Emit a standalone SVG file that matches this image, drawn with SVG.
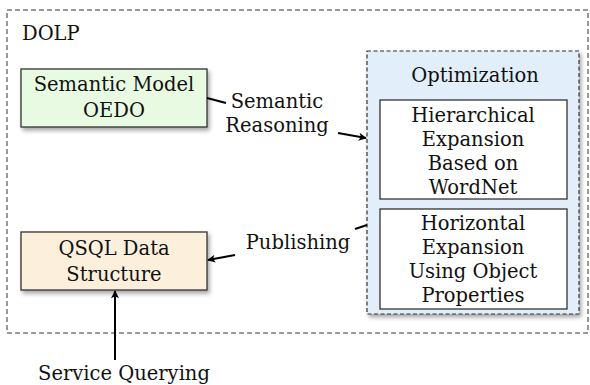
<svg xmlns="http://www.w3.org/2000/svg" width="590" height="385" viewBox="0 0 590 385">
<defs>
<filter id="sh" x="-10%" y="-10%" width="130%" height="140%">
<feDropShadow dx="2" dy="3" stdDeviation="2" flood-color="#000" flood-opacity="0.35"/>
</filter>
<marker id="ah" viewBox="0 0 10 10" refX="9" refY="5" markerWidth="10" markerHeight="8" markerUnits="userSpaceOnUse" orient="auto">
<path d="M0,0 L10,5 L0,10 L2.5,5 Z" fill="#000"/>
</marker>
<style>
text{font-family:"DejaVu Serif","Liberation Serif",serif;font-size:19.5px;fill:#111;text-anchor:middle}
.l{text-anchor:start}
.box{stroke:#333;stroke-width:1.3}
.c{fill:none;stroke:#000;stroke-width:2}
</style>
</defs>
<g id="dolp">
<rect x="7" y="10" width="581" height="323" fill="#fff" stroke="#333" stroke-width="1" stroke-dasharray="5,3"/>
<text class="l" x="22" y="40">DOLP</text>
</g>
<g id="semantic-model">
<rect class="box" x="21" y="69" width="186" height="58" fill="#e8fbe2" filter="url(#sh)"/>
<text x="114" y="91">Semantic Model</text>
<text x="114" y="117">OEDO</text>
</g>
<g id="qsql">
<rect class="box" x="21" y="232" width="186" height="58" fill="#fcf0dc" filter="url(#sh)"/>
<text x="114" y="255">QSQL Data</text>
<text x="114" y="281">Structure</text>
</g>
<g id="optimization">
<rect x="367" y="51" width="212" height="263" fill="#e3eefb" stroke="#333" stroke-width="1.2" stroke-dasharray="4,2.5" filter="url(#sh)"/>
<text x="475" y="82">Optimization</text>
</g>
<g id="hierarchical">
<rect class="box" x="380" y="100" width="187" height="99" fill="#fff"/>
<text x="473" y="122">Hierarchical</text>
<text x="473" y="146">Expansion</text>
<text x="473" y="170">Based on</text>
<text x="473" y="194">WordNet</text>
</g>
<g id="horizontal">
<rect class="box" x="380" y="209" width="187" height="100" fill="#fff"/>
<text x="473" y="230">Horizontal</text>
<text x="473" y="254">Expansion</text>
<text x="473" y="278">Using Object</text>
<text x="473" y="302">Properties</text>
</g>
<g id="connectors">
<path class="c" d="M207,98 L226,103"/>
<path class="c" d="M338,133 L366,138" marker-end="url(#ah)"/>
<path class="c" d="M367,225 L355,229"/>
<path class="c" d="M235,255 L208,260" marker-end="url(#ah)"/>
<path class="c" d="M115,360 L115,291" marker-end="url(#ah)"/>
<text x="277" y="108">Semantic</text>
<text x="277" y="132">Reasoning</text>
<text x="298" y="249">Publishing</text>
<text x="124" y="380">Service Querying</text>
</g>
</svg>
